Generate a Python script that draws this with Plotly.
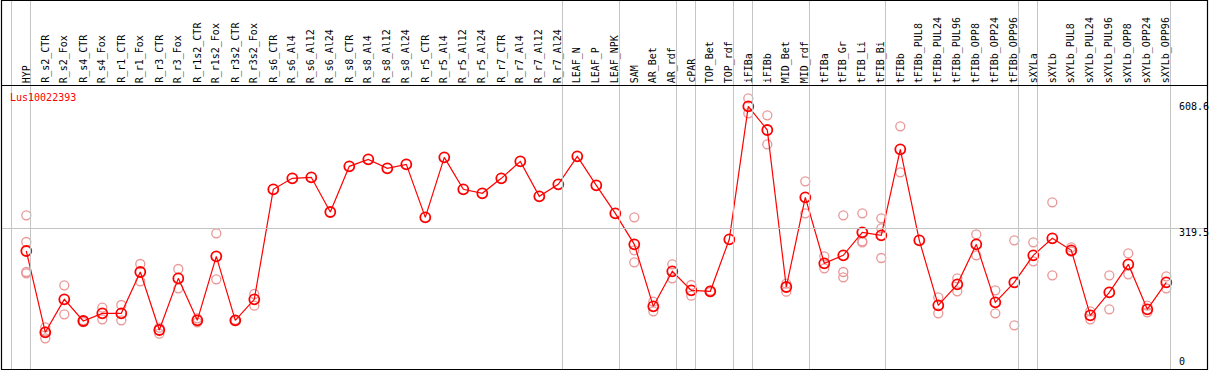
import plotly.graph_objects as go

# ---------------- data ----------------
gene = "Lus10022393"

categories = [
    "HYP",
    "R_s2_CTR", "R_s2_Fox", "R_s4_CTR", "R_s4_Fox", "R_r1_CTR", "R_r1_Fox",
    "R_r3_CTR", "R_r3_Fox", "R_r1s2_CTR", "R_r1s2_Fox", "R_r3s2_CTR", "R_r3s2_Fox",
    "R_s6_CTR", "R_s6_Al4", "R_s6_Al12", "R_s6_Al24",
    "R_s8_CTR", "R_s8_Al4", "R_s8_Al12", "R_s8_Al24",
    "R_r5_CTR", "R_r5_Al4", "R_r5_Al12", "R_r5_Al24",
    "R_r7_CTR", "R_r7_Al4", "R_r7_Al12", "R_r7_Al24",
    "LEAF_N", "LEAF_P", "LEAF_NPK",
    "SAM", "AR_Bet", "AR_rdf",
    "cPAR",
    "TOP_Bet", "TOP_rdf",
    "iFIBa",
    "iFIBb", "MID_Bet", "MID_rdf",
    "tFIBa", "tFIB_Gr", "tFIB_Li", "tFIB_Bi",
    "tFIBb", "tFIBb_PUL8", "tFIBb_PUL24", "tFIBb_PUL96", "tFIBb_OPP8", "tFIBb_OPP24", "tFIBb_OPP96",
    "sXYLa",
    "sXYLb", "sXYLb_PUL8", "sXYLb_PUL24", "sXYLb_PUL96", "sXYLb_OPP8", "sXYLb_OPP24", "sXYLb_OPP96",
]

# number of consecutive categories in each separated group
group_sizes = [1, 28, 3, 3, 1, 2, 1, 3, 4, 7, 1, 7]

means = [
    266.3, 73.9, 151.9, 100.7, 118.8, 118.8, 216.6, 79.4, 201.6, 102.2,
    253.7, 102.2, 151.9, 412.2, 438.2, 440.6, 358.5, 466.6, 483.1, 461.9,
    471.3, 345.9, 487.9, 412.2, 402.7, 438.2, 478.4, 395.6, 424.0, 490.2,
    421.6, 355.4, 282.0, 135.4, 218.2, 173.2, 170.9, 293.9, 608.6, 552.5,
    181.1, 393.2, 237.1, 256.0, 310.4, 303.3, 506.8, 291.5, 137.7, 187.4,
    282.0, 144.8, 192.2, 256.0, 296.2, 267.9, 114.1, 168.5, 234.7, 128.3,
    192.2,
]

replicates = [
    [350.7, 287.6, 216.6, 213.4], [85.7, 59.7, 76.0], [185.1, 116.4], [102.3, 98.0],
    [132.2, 104.6], [138.5, 102.2], [235.5, 194.5], [84.9, 70.7], [223.7, 178.0],
    [107.0, 97.5], [308.1, 199.2], [103.5, 100.5], [164.5, 136.9],
    [], [], [], [], [], [], [], [], [], [], [], [], [], [], [], [], [], [], [],
    [345.9, 267.9, 239.5], [146.4, 123.5], [234.7, 201.6], [185.8, 160.6],
    [172.5, 169.0], [], [627.5, 592.0], [587.2, 518.6], [189.0, 170.1],
    [431.1, 355.4], [253.7, 225.3], [350.7, 216.6, 204.0], [355.4, 289.2, 286.6],
    [343.6, 319.9, 249.7], [561.2, 452.4], [], [156.7, 118.8], [201.6, 170.9],
    [305.7, 256.0], [173.2, 118.8], [291.5, 90.4], [286.8, 241.8], [381.4, 208.7],
    [275.0, 264.7], [123.5, 104.6], [208.7, 128.3], [260.8, 211.1], [136.9, 121.2],
    [206.3, 178.0],
]

tick_values = [608.6, 319.5, 0]
tick_labels = ["608.6", "319.5", "0"]

# ---------------- layout / style ----------------
W, H = 1209, 370
FONT = "DejaVu Sans Mono"
RED = "#ff0000"
PINK = "#ea9696"
GRAY = "#c4c4c4"

x_range = [-1.384, 62.247]
y_range = [-15.26, 860.09]
header_px = 85.5


def px_x(p):
    return p / W


def px_y(p):
    return 1 - p / H


fig = go.Figure()

rx, ry = [], []
for i, reps in enumerate(replicates):
    for v in reps:
        rx.append(i)
        ry.append(v)

fig.add_trace(go.Scatter(
    x=rx, y=ry, mode="markers",
    marker=dict(symbol="circle-open", size=9, color=PINK, line=dict(width=1.3)),
    hoverinfo="skip",
))
fig.add_trace(go.Scatter(
    x=list(range(len(categories))), y=means, mode="lines+markers",
    line=dict(color=RED, width=1.2),
    marker=dict(symbol="circle-open", size=10, color=RED, line=dict(width=1.8)),
))

shapes = []
# group separators
sep_positions = [-1]
acc = -1
for g in group_sizes:
    acc += g
    sep_positions.append(acc)
for s in sep_positions:
    shapes.append(dict(type="line", xref="x", yref="paper", x0=s + 0.22, x1=s + 0.22,
                       y0=px_y(369), y1=1, line=dict(color=GRAY, width=1)))
# mid grid line
shapes.append(dict(type="line", xref="paper", yref="y", x0=px_x(1.5), x1=px_x(1207.5),
                   y0=tick_values[1], y1=tick_values[1], line=dict(color=GRAY, width=1)))
# frame
shapes.append(dict(type="rect", xref="paper", yref="paper", x0=px_x(1.5), x1=px_x(1207.5),
                   y0=px_y(369.5), y1=px_y(0.5), line=dict(color="black", width=1.2)))
# header separator
shapes.append(dict(type="line", xref="paper", yref="paper", x0=px_x(1.5), x1=px_x(1207.5),
                   y0=px_y(header_px), y1=px_y(header_px), line=dict(color="black", width=1.2)))

annotations = []
for i, c in enumerate(categories):
    annotations.append(dict(x=i, xref="x", y=px_y(84), yref="paper", text=c, showarrow=False,
                            textangle=-90, xanchor="center", yanchor="bottom",
                            font=dict(family=FONT, size=10, color="black"), borderpad=0))
annotations.append(dict(x=px_x(9), xref="paper", y=px_y(97), yref="paper", text=gene,
                        showarrow=False, xanchor="left", yanchor="middle",
                        font=dict(family=FONT, size=10, color=RED), borderpad=0))
anchors = ["middle", "top", "middle"]
shifts = [0, 3, 2]
for v, t, a, s in zip(tick_values, tick_labels, anchors, shifts):
    annotations.append(dict(x=px_x(1178), xref="paper", y=v, yref="y", text=t,
                            showarrow=False, xanchor="left", yanchor=a, yshift=s,
                            font=dict(family=FONT, size=10, color="black"), borderpad=0))

fig.update_layout(
    width=W, height=H,
    margin=dict(l=0, r=0, t=0, b=0, pad=0),
    paper_bgcolor="white", plot_bgcolor="white",
    showlegend=False,
    xaxis=dict(range=x_range, visible=False, fixedrange=True),
    yaxis=dict(range=y_range, visible=False, fixedrange=True),
    shapes=shapes,
    annotations=annotations,
)

fig.write_html(
    "out.html",
    config={"displayModeBar": False},
    post_script="document.body.style.margin='0px';document.body.style.overflow='hidden';",
)
